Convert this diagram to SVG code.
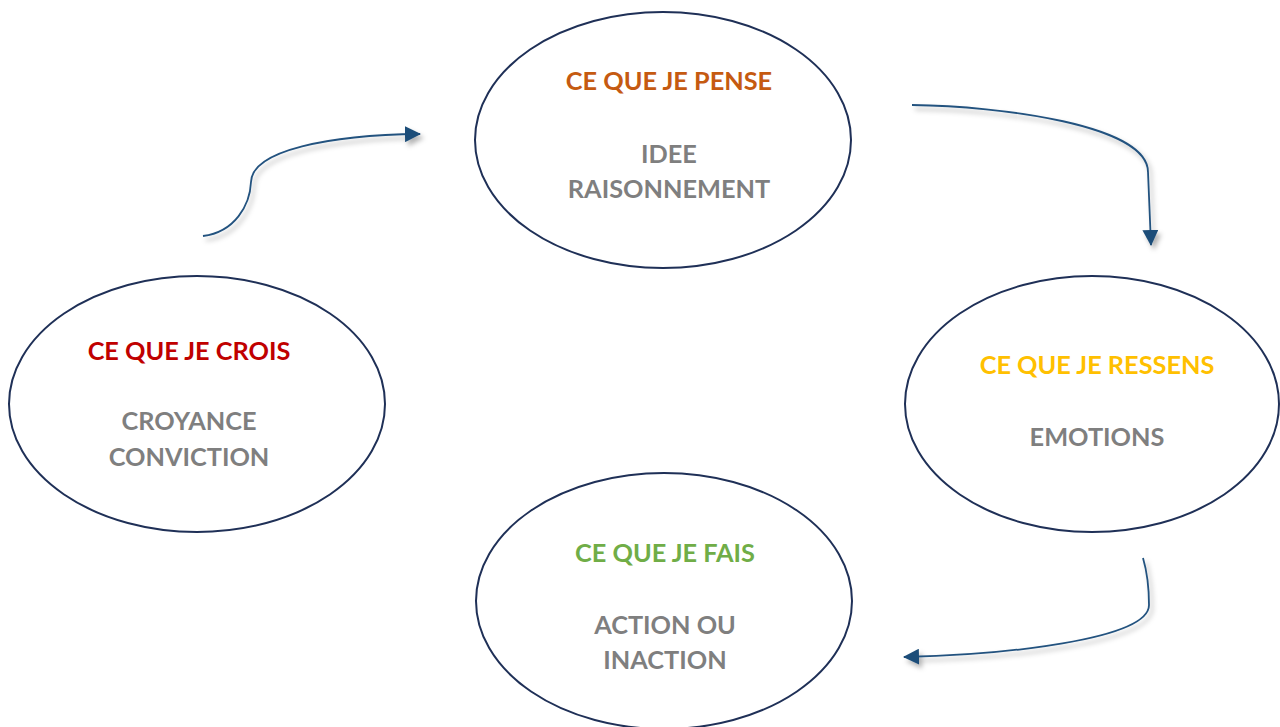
<svg xmlns="http://www.w3.org/2000/svg" width="1280" height="727" viewBox="0 0 1280 727">
  <style>
    .node { fill: #ffffff; stroke: #1f3057; stroke-width: 2; }
    .t { font-family: Lato, "Open Sans", "Liberation Sans", sans-serif; font-weight: bold; font-size: 25.3px; text-anchor: middle; }
    .sub { fill: #7f7f7f; }
    .link { fill: none; stroke: #24527f; stroke-width: 1.8; filter: url(#shadow); }
  </style>
  <defs>
    <filter id="shadow" x="-20%" y="-20%" width="140%" height="140%">
      <feDropShadow dx="3" dy="4" stdDeviation="2.5" flood-color="#000000" flood-opacity="0.3"/>
    </filter>
    <marker id="head" viewBox="0 0 16 16" refX="15" refY="8" markerWidth="16" markerHeight="16" markerUnits="userSpaceOnUse" orient="auto">
      <path d="M0,0 L16,8 L0,16 z" fill="#1f4e79"/>
    </marker>
  </defs>
  <rect width="1280" height="727" fill="#ffffff"/>

  <!-- curved arrows running clockwise between the four stages -->
  <g id="connectors">
    <path class="link" d="M203,236 C235,232 250,205 251,182 C252,150 330,135 420,134" marker-end="url(#head)"/>
    <path class="link" d="M912,105 C1000,106 1148,125 1148,172 L1151,245" marker-end="url(#head)"/>
    <path class="link" d="M1143,558 C1148,575 1149,595 1149,605 C1149,640 1000,655 904,657" marker-end="url(#head)"/>
  </g>

  <g id="node-pense">
    <ellipse class="node" cx="663" cy="140" rx="188" ry="128"/>
    <text class="t" x="669" y="90" fill="#c55a11">CE QUE JE PENSE</text>
    <text class="t sub" x="669" y="163">IDEE</text>
    <text class="t sub" x="669" y="198">RAISONNEMENT</text>
  </g>

  <g id="node-crois">
    <ellipse class="node" cx="197" cy="404" rx="188" ry="128"/>
    <text class="t" x="189" y="360" fill="#c00000">CE QUE JE CROIS</text>
    <text class="t sub" x="189" y="430">CROYANCE</text>
    <text class="t sub" x="189" y="466">CONVICTION</text>
  </g>

  <g id="node-ressens">
    <ellipse class="node" cx="1092" cy="404" rx="187" ry="128"/>
    <text class="t" x="1097" y="374" fill="#ffc000">CE QUE JE RESSENS</text>
    <text class="t sub" x="1097" y="446">EMOTIONS</text>
  </g>

  <g id="node-fais">
    <ellipse class="node" cx="664" cy="601" rx="188" ry="128"/>
    <text class="t" x="665" y="562" fill="#70ad47">CE QUE JE FAIS</text>
    <text class="t sub" x="665" y="634">ACTION OU</text>
    <text class="t sub" x="665" y="669">INACTION</text>
  </g>
</svg>
